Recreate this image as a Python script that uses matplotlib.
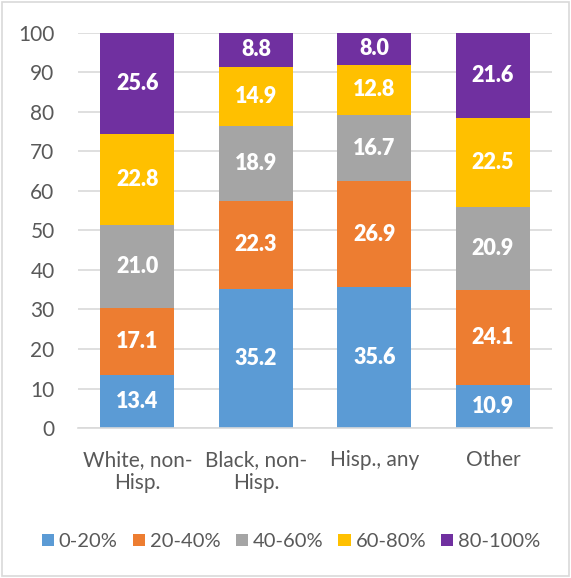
import matplotlib
matplotlib.use("Agg")
import matplotlib.pyplot as plt
from matplotlib.patches import Rectangle
import numpy as np

categories = ["White, non-\nHisp.", "Black, non-\nHisp.", "Hisp., any", "Other"]
series_names = ["0-20%", "20-40%", "40-60%", "60-80%", "80-100%"]
s0_20 = [13.4, 35.2, 35.6, 10.9]
s20_40 = [17.1, 22.3, 26.9, 24.1]
s40_60 = [21.0, 18.9, 16.7, 20.9]
s60_80 = [22.8, 14.9, 12.8, 22.5]
s80_100 = [25.6, 8.8, 8.0, 21.6]
yticks = [0, 10, 20, 30, 40, 50, 60, 70, 80, 90, 100]

series = [s0_20, s20_40, s40_60, s60_80, s80_100]
colors = ["#5B9BD5", "#ED7D31", "#A5A5A5", "#FFC000", "#7030A0"]

plt.rcParams['font.family'] = ['Lato', 'DejaVu Sans']
txt = "#595959"

fig = plt.figure(figsize=(5.71, 5.78), dpi=100)
fig.patches.append(Rectangle((0.003, 0.003), 0.994, 0.994, transform=fig.transFigure,
                             fill=False, edgecolor="#D9D9D9", linewidth=1.2))
ax = fig.add_axes([0.137, 0.2595, 0.83, 0.6835])

x = np.arange(len(categories))
bottom = np.zeros(len(categories))
for vals, col, name in zip(series, colors, series_names):
    vals = np.array(vals)
    ax.bar(x, vals, 0.625, bottom=bottom, color=col, label=name, zorder=2)
    for xi, b, v in zip(x, bottom, vals):
        ax.text(xi, b + v / 2, f"{v:.1f}", ha="center", va="center", color="white",
                fontsize=15.5, fontweight="heavy", zorder=3)
    bottom = bottom + vals

ax.set_xlim(-0.5, len(categories) - 0.5)
ax.set_ylim(0, 100)
ax.set_yticks(yticks)
ax.set_yticklabels([str(t) for t in yticks], fontsize=15, color=txt)
ax.set_xticks(x)
ax.set_xticklabels(categories, fontsize=15, color=txt, linespacing=1.15)
ax.tick_params(axis="both", length=0)
ax.tick_params(axis="y", pad=17)
ax.tick_params(axis="x", pad=16)
ax.yaxis.grid(True, color="#D9D9D9", linewidth=1.2, zorder=0)
ax.set_axisbelow(True)
for s in ["top", "right", "left"]:
    ax.spines[s].set_visible(False)
ax.spines["bottom"].set_color("#D9D9D9")
ax.spines["bottom"].set_linewidth(1.2)

leg = fig.legend(loc="center", bbox_to_anchor=(0.51, 0.063), ncol=5, frameon=False,
                 fontsize=14.5, handlelength=0.6, handleheight=0.6, handletextpad=0.25,
                 columnspacing=0.75)
for t in leg.get_texts():
    t.set_color(txt)

fig.savefig("out.png", dpi=100)
